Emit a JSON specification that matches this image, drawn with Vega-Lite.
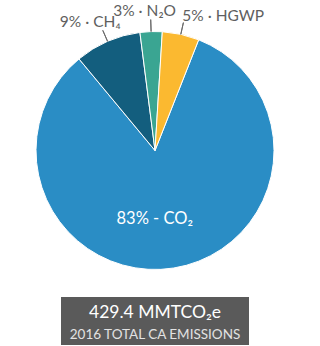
{
  "$schema": "https://vega.github.io/schema/vega-lite/v6.json",
  "padding": {"left": 0, "top": 3, "right": 0, "bottom": 0},
  "background": "#ffffff",
  "spacing": 0,
  "center": true,
  "config": {"view": {"stroke": null}, "text": {"font": "Lato"}},
  "vconcat": [
    {
      "width": 310,
      "height": 293,
      "data": {"values": [
        {"gas": "CO2", "value": 83, "label": "83% - CO₂"},
        {"gas": "CH4", "value": 9, "label": "9% · CH₄"},
        {"gas": "N2O", "value": 3, "label": "3% · N₂O"},
        {"gas": "HGWP", "value": 5, "label": "5% · HGWP"}
      ]},
      "encoding": {
        "theta": {"field": "value", "type": "quantitative", "stack": true, "scale": {"range": [-0.127, 6.156]}},
        "order": {"field": "gas", "sort": "descending"},
        "detail": {"field": "gas"}
      },
      "layer": [
        {
          "mark": {"type": "arc", "radius": 119, "stroke": "#ffffff", "strokeWidth": 1},
          "encoding": {
            "color": {"field": "gas", "type": "nominal", "legend": null,
              "scale": {"domain": ["CO2", "CH4", "N2O", "HGWP"], "range": ["#2a8dc5", "#135e7e", "#3aa592", "#fbb930"]}}
          }
        },
        {
          "mark": {"type": "arc", "fillOpacity": 0, "stroke": "#6a6a6a", "strokeWidth": 1, "padAngle": 3},
          "encoding": {
            "radius": {"value": 131}, "radius2": {"value": 119},
            "opacity": {"condition": {"test": "datum.gas != 'CO2'", "value": 1}, "value": 0}
          }
        },
        {
          "mark": {"type": "text", "radius": 135, "fontSize": 15.5, "color": "#5f5f5f", "dx": -11, "dy": -5},
          "encoding": {"text": {"condition": {"test": "datum.gas == 'CH4'", "field": "label"}, "value": ""}}
        },
        {
          "mark": {"type": "text", "radius": 135, "fontSize": 15.5, "color": "#5f5f5f", "dx": -6, "dy": -5},
          "encoding": {"text": {"condition": {"test": "datum.gas == 'N2O'", "field": "label"}, "value": ""}}
        },
        {
          "mark": {"type": "text", "radius": 135, "fontSize": 15.5, "color": "#5f5f5f", "dx": 39, "dy": -3},
          "encoding": {"text": {"condition": {"test": "datum.gas == 'HGWP'", "field": "label"}, "value": ""}}
        },
        {
          "mark": {"type": "text", "radius": 68, "fontSize": 16.5, "color": "#ffffff", "dx": -11, "dy": 1},
          "encoding": {"text": {"condition": {"test": "datum.gas == 'CO2'", "field": "label"}, "value": ""}}
        }
      ]
    },
    {
      "width": 188,
      "height": 48,
      "view": {"fill": "#5a5a5a", "stroke": null},
      "data": {"values": [{"amount": "429.4 MMTCO₂e", "caption": "2016 TOTAL CA EMISSIONS"}]},
      "layer": [
        {
          "mark": {"type": "text", "fontSize": 17.5, "color": "#ffffff", "dy": -8},
          "encoding": {"text": {"field": "amount"}}
        },
        {
          "mark": {"type": "text", "fontSize": 13.5, "color": "#e2e2e2", "dy": 14},
          "encoding": {"text": {"field": "caption"}}
        }
      ]
    }
  ]
}
